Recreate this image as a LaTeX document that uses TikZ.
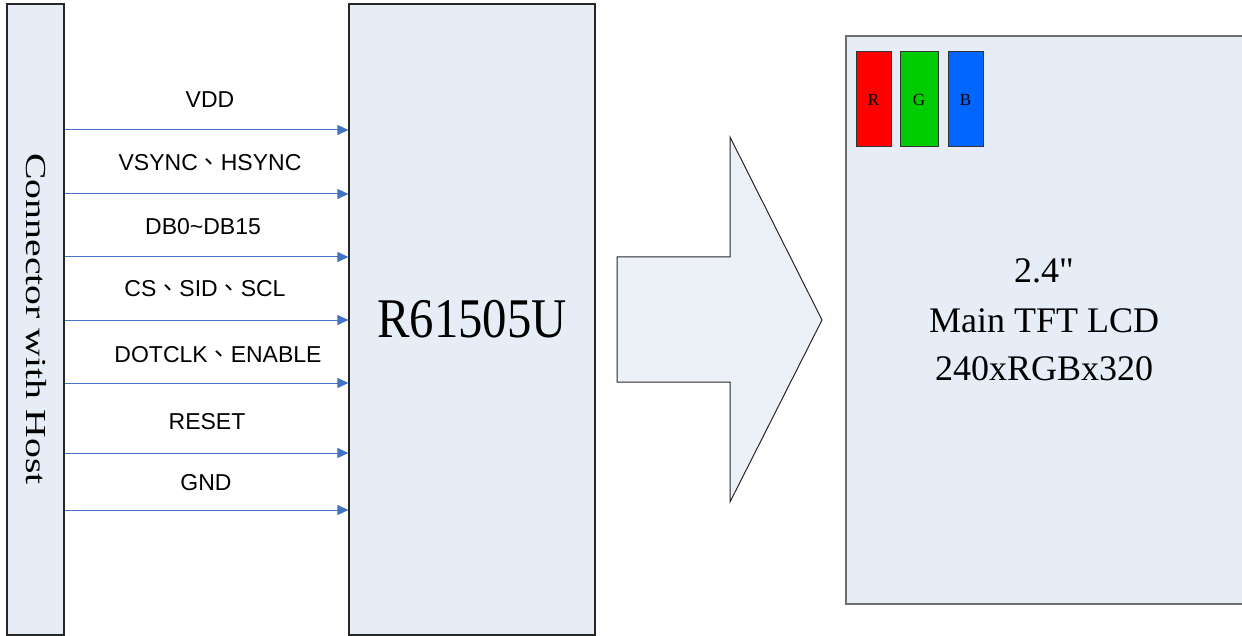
\documentclass[tikz,border=0pt]{standalone}
\usepackage{fontspec}
\setmainfont{Liberation Serif}
\setsansfont{Liberation Sans}
\newfontfamily\serifnotex{Liberation Serif}[Ligatures=TeXOff]
\newfontfamily\cjk{Noto Sans CJK TC}
\usetikzlibrary{arrows.meta}
\definecolor{boxfill}{RGB}{230,237,247}
\definecolor{arrfill}{RGB}{236,241,248}
\definecolor{sigblue}{RGB}{68,114,196}
\definecolor{lcdgray}{RGB}{110,110,110}
\definecolor{pixR}{RGB}{255,0,0}
\definecolor{pixG}{RGB}{0,204,0}
\definecolor{pixB}{RGB}{0,102,255}
\newcommand{\cjkc}{{\cjk 、}}
\begin{document}
\begin{tikzpicture}[x=1pt,y=1pt,
  blockbox/.style={draw=black!85,line width=1.2pt,fill=boxfill,inner sep=0pt,rectangle},
  sig/.style={draw=sigblue,line width=1pt,-{Triangle[length=11pt,width=10pt]}},
  siglabel/.style={font=\sffamily\fontsize{23}{26}\selectfont,anchor=base,inner sep=0pt},
  lcdtext/.style={anchor=base,inner sep=0pt,font=\serifnotex\fontsize{36}{40}\selectfont},
  pixel/.style={draw=black!80,line width=1pt,inner sep=0pt,rectangle,font=\fontsize{17}{19}\selectfont}]
\useasboundingbox (0,0) rectangle (1242,-636);
\clip (0,0) rectangle (1242,-636);
% connector box
\node[blockbox,minimum width=57pt,minimum height=631pt] (conn) at (35.5,-319.5) {};
\node[rotate=-90,inner sep=0pt] (conntext) at (36,-319) {\scalebox{1.37}[1]{\fontsize{29}{32}\selectfont Connector with Host}};
% chip box
\node[blockbox,minimum width=246pt,minimum height=631pt] (chip) at (472,-319.5) {};
\node[anchor=base,inner sep=0pt] (chiptext) at (472,-337) {\scalebox{0.87}[1]{\fontsize{56}{60}\selectfont R61505U}};
% signals
\foreach \yy in {130,194,257,320,383,453,510}{
  \draw[sig] (conn.east |- 0,-\yy) -- (chip.west |- 0,-\yy);
}
\node[siglabel] (l1) at (210,-108) {VDD};
\node[siglabel] (l2) at (210,-171) {VSYNC\cjkc HSYNC};
\node[siglabel] (l3) at (203,-235) {DB0\char"007E DB15};
\node[siglabel] (l4) at (205,-297) {CS\cjkc SID\cjkc SCL};
\node[siglabel] (l5) at (218,-362) {DOTCLK\cjkc ENABLE};
\node[siglabel] (l6) at (207,-429) {RESET};
\node[siglabel] (l7) at (206,-490) {GND};
% big arrow
\draw[draw=black!85,line width=1pt,fill=arrfill,line join=miter]
  (617,-257) -- (730,-257) -- (730,-137) -- (822,-320) -- (730,-502) -- (730,-382) -- (617,-382) -- cycle;
% LCD
\draw[draw=lcdgray,line width=1.5pt,fill=boxfill] (846,-36) rectangle (1260,-604);
\node[pixel,fill=pixR,minimum width=35pt,minimum height=95pt] (pr) at (873.5,-99.5) {R};
\node[pixel,fill=pixG,minimum width=38pt,minimum height=95pt] (pg) at (919,-99.5) {G};
\node[pixel,fill=pixB,minimum width=35pt,minimum height=95pt] (pb) at (965.5,-99.5) {B};
\node[lcdtext] (t1) at (1044,-283) {2.4"};
\node[lcdtext] (t2) at (1044,-332) {Main TFT LCD};
\node[lcdtext] (t3) at (1044,-380) {240xRGBx320};
\end{tikzpicture}
\end{document}
